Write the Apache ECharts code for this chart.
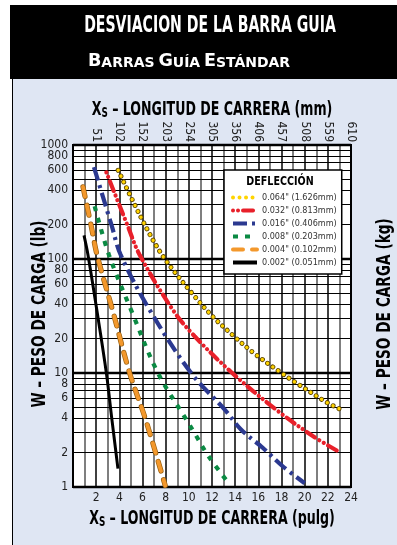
<!DOCTYPE html>
<html><head><meta charset="utf-8">
<script src="https://cdn.jsdelivr.net/npm/echarts@6/dist/echarts.min.js"></script>
<style>
html,body{margin:0;padding:0;background:#fff;}
#wrap{position:relative;width:397px;height:545px;overflow:hidden;}
#banner{position:absolute;left:10px;top:5px;width:387px;height:74px;background:#000;}
#panel{position:absolute;left:12px;top:79px;width:385px;height:466px;background:#dfe6f3;border-left:1.5px solid #000;}
#c{position:absolute;left:0;top:0;width:397px;height:545px;}
</style>
</head><body>
<div id="wrap"><div id="banner"></div><div id="panel"></div><div id="c"></div></div>
<script>
const FONT = '"Liberation Sans Narrow","DejaVu Sans Condensed","Arial Narrow",sans-serif';

// ---- tick labels ----
const xTickValues = [2,4,6,8,10,12,14,16,18,20,22,24];
const xTickLabels = ['2','4','6','8','10','12','14','16','18','20','22','24'];
const mmTickLabels = ['51','102','152','203','254','305','356','406','457','508','559','610'];
const lbTickValues = [1,2,4,6,8,10,20,40,60,80,100,200,400,600,800,1000];
const lbTickLabels = ['1','2','4','6','8','10','20','40','60','80','100','200','400','600','800','1000'];
const kgTickLabels = ['.5','.9','1.8','2.7','3.6','4.5','9.1','18','27','36','45','91','181','272','363','454'];
const yGridValues = [1,2,3,4,5,6,7,8,9,10,20,30,40,50,60,70,80,90,100,200,300,400,500,600,700,800,900,1000];

// ---- series ----
const seriesNames = ['0.064" (1.626mm)','0.032" (0.813mm)','0.016" (0.406mm)','0.008" (0.203mm)','0.004" (0.102mm)','0.002" (0.051mm)'];
const x064 = [3.9, 6.27, 7.9, 10.5, 12.1, 13.9, 15.7, 18.0, 19.1, 22.0, 23.1];
const w064 = [600, 193, 101, 47, 31, 21, 14.7, 10, 8.4, 5.45, 4.8];
const x032 = [2.88, 4.74, 5.75, 8.6, 10.5, 13.65, 17.5, 20.7, 23.1];
const w032 = [575, 193, 109, 36, 21, 10.2, 4.8, 2.8, 2.0];
const x016 = [1.81, 3.36, 4.11, 6.6, 10.2, 13.08, 14.5, 16.4, 18.1, 20.0];
const w016 = [640, 193, 109, 36, 10, 4.8, 3.2, 2.2, 1.52, 1.08];
const x008 = [1.87, 3.1, 5.0, 7.33, 9.78, 10.49, 11.7, 13.5];
const w008 = [290, 109, 36, 10, 3.9, 2.97, 1.86, 1.06];
const x004 = [0.86, 1.58, 2.07, 3.4, 4.89, 6.27, 7.96];
const w004 = [430, 193, 109, 36, 10, 3.9, 1.03];
const x002 = [0.95, 1.29, 2.05, 2.88, 3.36, 3.88];
const w002 = [161, 109, 36, 10, 3.9, 1.45];

const pairs = (xs, ws) => xs.map((x, i) => [x, ws[i]]);

const chart = echarts.init(document.getElementById('c'), null, {renderer: 'canvas'});

const labelBase = {fontFamily: FONT, fontSize: 12, color: '#222'};

const gridLinesData = yGridValues.map(v => {
  const major = (v === 1 || v === 10 || v === 100 || v === 1000);
  const idx = lbTickValues.indexOf(v);
  return {
    yAxis: v,
    lineStyle: {color: '#000', width: major ? 2.4 : 1.2, type: 'solid'},
    label: idx >= 0 ? Object.assign({show: true, position: 'start', distance: 5, formatter: lbTickLabels[idx]}, labelBase) : {show: false}
  };
});
const kgData = lbTickValues.map((v, i) => ({
  yAxis: v,
  lineStyle: {opacity: 0, width: 0},
  label: Object.assign({show: true, position: 'end', distance: 4, formatter: kgTickLabels[i]}, labelBase)
}));

function curve(name, xs, ws, style, z) {
  return {
    name: name, type: 'line', data: pairs(xs, ws), symbol: 'none', smooth: 0.35,
    lineStyle: style, z: z, silent: true, animation: false,
    xAxisIndex: 0, yAxisIndex: 0
  };
}

const boldFont = (size) => ({fontFamily: FONT, fontWeight: 'bold', fontSize: size, fill: '#000'});
const richTitle = (big, small) => ({
  b: {fontFamily: FONT, fontWeight: 'bold', fontSize: big, fill: '#000', verticalAlign: 'bottom'},
  s: {fontFamily: FONT, fontWeight: 'bold', fontSize: small, fill: '#000', verticalAlign: 'bottom'}
});

const option = {
  animation: false,
  backgroundColor: 'transparent',
  grid: {left: 73, top: 145, width: 278, height: 342, show: true, backgroundColor: '#fff', borderColor: '#000', borderWidth: 2, z: 0},
  xAxis: [{
    type: 'value', position: 'bottom', min: 0, max: 24, interval: 1,
    axisLine: {show: false}, axisTick: {show: false},
    splitLine: {show: true, lineStyle: {color: ['#000', '#555'], width: 1.5}},
    axisLabel: {interval: 0, margin: 5, fontFamily: FONT, fontSize: 12, color: '#222',
      formatter: v => { const i = xTickValues.indexOf(v); return i >= 0 ? xTickLabels[i] : ''; }}
  }, {
    type: 'value', position: 'top', min: 0, max: 24, interval: 1,
    axisLine: {show: false}, axisTick: {show: false}, splitLine: {show: false},
    axisLabel: {interval: 0, margin: 3, rotate: 90, fontFamily: FONT, fontSize: 12, color: '#222',
      formatter: v => { const i = xTickValues.indexOf(v); return i >= 0 ? mmTickLabels[i] : ''; }}
  }],
  yAxis: [{
    type: 'log', min: 1, max: 1000, logBase: 10,
    axisLine: {show: false}, axisTick: {show: false}, axisLabel: {show: false}, splitLine: {show: false}
  }],
  legend: {
    z: 20,
    orient: 'vertical', left: 224, top: 170, padding: [23, 5, 7, 7],
    itemWidth: 24, itemHeight: 10, itemGap: 4,
    backgroundColor: '#fff', borderColor: '#000', borderWidth: 1.5,
    data: seriesNames,
    itemStyle: {opacity: 0},
    lineStyle: {width: 4},
    textStyle: {fontFamily: FONT, fontSize: 9, color: '#333'},
    selectedMode: false
  },
  graphic: [
    {type: 'text', x: 210, y: 26, scaleX: 0.68, z: 100, style: Object.assign(boldFont(23), {fill: '#fff', text: 'DESVIACION DE LA BARRA GUIA', textAlign: 'center', textVerticalAlign: 'middle'})},
    {type: 'text', x: 189, y: 62, scaleX: 1.15, z: 100, style: {text: '{b|B}{s|ARRAS} {b|G}{s|UÍA} {b|E}{s|STÁNDAR}', textAlign: 'center', textVerticalAlign: 'middle',
      rich: {b: {fontFamily: FONT, fontWeight: 'bold', fontSize: 17, fill: '#fff', verticalAlign: 'bottom'}, s: {fontFamily: FONT, fontWeight: 'bold', fontSize: 13.5, fill: '#fff', verticalAlign: 'bottom'}}}},
    {type: 'text', x: 212, y: 110, scaleX: 0.70, z: 100, style: {text: '{b|X}{s|S}{b| – LONGITUD DE CARRERA (mm)}', textAlign: 'center', textVerticalAlign: 'middle', rich: richTitle(20, 14)}},
    {type: 'text', x: 212, y: 519, scaleX: 0.70, z: 100, style: {text: '{b|X}{s|S}{b| – LONGITUD DE CARRERA (pulg)}', textAlign: 'center', textVerticalAlign: 'middle', rich: richTitle(20, 14)}},
    {type: 'text', x: 40, y: 314, rotation: Math.PI / 2, scaleX: 0.76, z: 100, style: Object.assign(boldFont(20), {text: 'W – PESO DE CARGA (lb)', textAlign: 'center', textVerticalAlign: 'middle'})},
    {type: 'text', x: 385, y: 314, rotation: Math.PI / 2, scaleX: 0.76, z: 100, style: Object.assign(boldFont(20), {text: 'W – PESO DE CARGA (kg)', textAlign: 'center', textVerticalAlign: 'middle'})},
    {type: 'text', x: 280, y: 182, scaleX: 0.85, z: 100, style: Object.assign(boldFont(12.5), {text: 'DEFLECCIÓN', textAlign: 'center', textVerticalAlign: 'middle'})}
  ],
  series: [
    {type: 'line', data: [], silent: true, z: 1, markLine: {z: 1, silent: true, symbol: ['none', 'none'], animation: false, data: gridLinesData}},
    {type: 'line', data: [], silent: true, z: 1, markLine: {z: 1, silent: true, symbol: ['none', 'none'], animation: false, data: kgData}},
    curve(null, x064, w064, {color: '#5a4300', width: 5, type: [0.01, 6.5], cap: 'round'}, 2),
    curve(seriesNames[0], x064, w064, {color: '#ffd400', width: 3.4, type: [0.01, 6.5], cap: 'round'}, 3),
    curve(seriesNames[1], x032, w032, {color: '#e8202a', width: 4.2, type: [0.01, 5, 0.01, 5, 10, 5], cap: 'round'}, 3),
    curve(seriesNames[2], x016, w016, {color: '#2b3990', width: 4.2, type: [14, 5, 3, 5], cap: 'butt'}, 3),
    curve(seriesNames[3], x008, w008, {color: '#0b8a43', width: 4.2, type: [5, 7], cap: 'butt'}, 3),
    curve(null, x004, w004, {color: '#9a6010', width: 5.2, type: [10, 9], cap: 'round'}, 2),
    curve(seriesNames[4], x004, w004, {color: '#f3982c', width: 3.8, type: [10, 9], cap: 'round'}, 3),
    curve(seriesNames[5], x002, w002, {color: '#000', width: 3, type: 'solid'}, 3)
  ]
};
chart.setOption(option);
</script>
</body></html>
